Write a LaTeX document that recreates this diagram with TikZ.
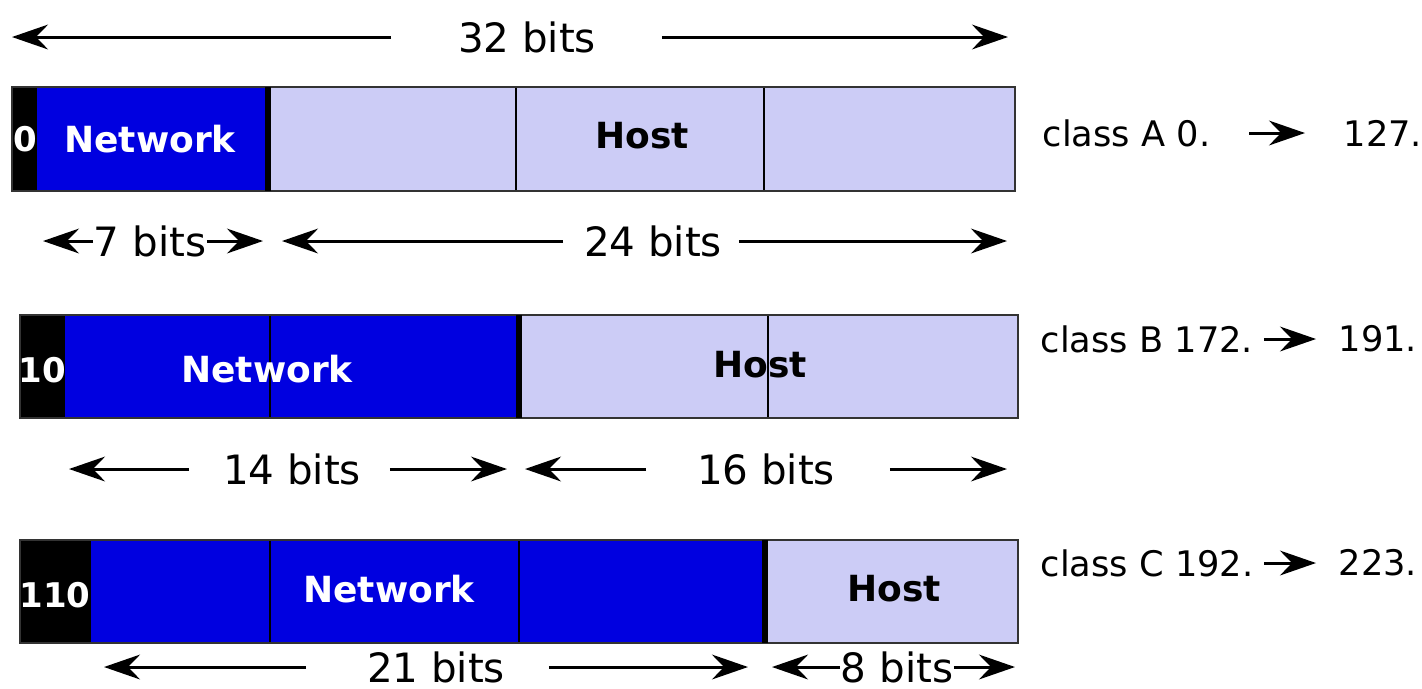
\documentclass[tikz,border=0pt]{standalone}
\usepackage{fontspec}
\setmainfont{DejaVu Sans}
\usetikzlibrary{arrows.meta}
\definecolor{netblue}{RGB}{0,0,224}
\definecolor{hostblue}{RGB}{204,204,246}

\begin{document}
\begin{tikzpicture}[x=0.25pt,y=-0.25pt,
			every node/.style={inner sep=0pt},
			field/.style={draw=black!80,line width=0.5pt},
			sep/.style={black,line width=0.5pt},
			netsep/.style={black,line width=1.3pt},
			bitlabel/.style={white,font=\fontsize{8.5}{10}\selectfont\bfseries},
			netlabel/.style={white,font=\fontsize{9}{11}\selectfont\bfseries},
			hostlabel/.style={black,font=\fontsize{9}{11}\selectfont\bfseries},
			dimlabel/.style={font=\fontsize{10.1}{12}\selectfont},
			classlabel/.style={anchor=west,font=\fontsize{8.8}{11}\selectfont},
			dimarrow/.style={-{Stealth[length=9pt,width=6.2pt,inset=3pt]},line width=0.75pt}]
			\useasboundingbox (0,0) rectangle (1422,688);
			\node [dimlabel] (len32) at (527,37) {32 bits};
			\coordinate (len32L) at (12,37);
			\coordinate (len32R) at (1008,37);
			\draw [dimarrow,shorten <=16.5pt] (len32) -- (len32L);
			\draw [dimarrow,shorten <=16.25pt] (len32) -- (len32R);
			\fill [black] (12,87) rectangle (37,191);
			\fill [netblue] (37,87) rectangle (268,191);
			\fill [hostblue] (268,87) rectangle (1015,191);
			\draw [sep] (516,87) -- (516,191);
			\draw [sep] (764,87) -- (764,191);
			\draw [field] (12,87) rectangle (1015,191);
			\draw [netsep] (268,87) -- (268,191);
			\node [bitlabel] (bitsA) at (25,139) {0};
			\node [netlabel] (netA) at (150,139) {Network};
			\node [hostlabel] (hostA) at (642,136) {Host};
			\node [classlabel] (classA) at (1042,133) {class A 0.};
			\node [classlabel] (endA) at (1343,133) {127.};
			\draw [dimarrow,shorten <=9.6pt,shorten >=9.5pt] (classA) -- (endA);
			\node [dimlabel] (len7) at (150,241) {7 bits};
			\coordinate (len7L) at (43,241);
			\coordinate (len7R) at (263,241);
			\draw [dimarrow] (len7) -- (len7L);
			\draw [dimarrow] (len7) -- (len7R);
			\node [dimlabel] (len24) at (653,241) {24 bits};
			\coordinate (len24L) at (282,241);
			\coordinate (len24R) at (1007,241);
			\draw [dimarrow,shorten <=5pt] (len24) -- (len24L);
			\draw [dimarrow,shorten <=4pt] (len24) -- (len24R);
			\fill [black] (20,315) rectangle (65,418);
			\fill [netblue] (65,315) rectangle (519,418);
			\fill [hostblue] (519,315) rectangle (1018,418);
			\draw [sep] (270,315) -- (270,418);
			\draw [sep] (768,315) -- (768,418);
			\draw [field] (20,315) rectangle (1018,418);
			\draw [netsep] (519,315) -- (519,418);
			\node [bitlabel] (bitsB) at (42,370) {10};
			\node [netlabel] (netB) at (267,369) {Network};
			\node [hostlabel] (hostB) at (760,365) {Host};
			\node [classlabel] (classB) at (1040,339) {class B 172.};
			\node [classlabel] (endB) at (1338,339) {191.};
			\draw [dimarrow,shorten <=2.5pt,shorten >=5.5pt] (classB) -- (endB);
			\node [dimlabel] (len14) at (292,469) {14 bits};
			\coordinate (len14L) at (69,469);
			\coordinate (len14R) at (507,469);
			\draw [dimarrow,shorten <=8.25pt] (len14) -- (len14L);
			\draw [dimarrow,shorten <=7pt] (len14) -- (len14R);
			\node [dimlabel] (len16) at (766,469) {16 bits};
			\coordinate (len16L) at (525,469);
			\coordinate (len16R) at (1007,469);
			\draw [dimarrow,shorten <=12.5pt] (len16) -- (len16L);
			\draw [dimarrow,shorten <=13.5pt] (len16) -- (len16R);
			\fill [black] (20,540) rectangle (91,643);
			\fill [netblue] (91,540) rectangle (765,643);
			\fill [hostblue] (765,540) rectangle (1018,643);
			\draw [sep] (270,540) -- (270,643);
			\draw [sep] (519,540) -- (519,643);
			\draw [field] (20,540) rectangle (1018,643);
			\draw [netsep] (765,540) -- (765,643);
			\node [bitlabel] (bitsC) at (55,595) {110};
			\node [netlabel] (netC) at (389,589) {Network};
			\node [hostlabel] (hostC) at (894,589) {Host};
			\node [classlabel] (classC) at (1040,563) {class C 192.};
			\node [classlabel] (endC) at (1338,563) {223.};
			\draw [dimarrow,shorten <=2.5pt,shorten >=5.5pt] (classC) -- (endC);
			\node [dimlabel] (len21) at (436,667) {21 bits};
			\coordinate (len21L) at (104,667);
			\coordinate (len21R) at (748,667);
			\draw [dimarrow,shorten <=15pt] (len21) -- (len21L);
			\draw [dimarrow,shorten <=10.75pt] (len21) -- (len21R);
			\node [dimlabel] (len8) at (897,667) {8 bits};
			\coordinate (len8L) at (772,667);
			\coordinate (len8R) at (1015,667);
			\draw [dimarrow] (len8) -- (len8L);
			\draw [dimarrow] (len8) -- (len8R);
\end{tikzpicture}
\end{document}
